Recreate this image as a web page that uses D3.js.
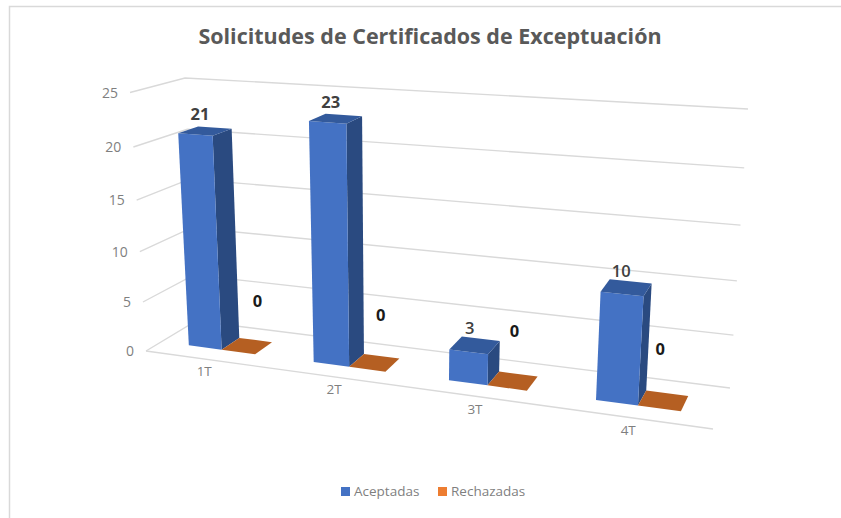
<!DOCTYPE html>
<html><head><meta charset="utf-8">
<script src="https://cdn.jsdelivr.net/npm/d3@7/dist/d3.min.js"></script>
<style>html,body{margin:0;padding:0;background:#fff}svg{display:block}text{font-family:"Open Sans","Noto Sans",sans-serif}</style>
</head><body><div id="c"></div>
<script>
const categories = ["1T","2T","3T","4T"];
const seriesNames = ["Aceptadas","Rechazadas"];
const aceptadas = [21,23,3,10];
const rechazadas = [0,0,0,0];
const titleText = "Solicitudes de Certificados de Exceptuación";
const W=841,H=518;
const svg=d3.select("#c").append("svg").attr("width",W).attr("height",H);

// Box corners on screen: [u][d][v]
const corners={
 fl0:[146,351],fl1:[130,92.5],bl0:[196,321],bl1:[185,78],
 br0:[730,388],br1:[748,109],fr0:[713,429],fr1:[733,135]
};
const persp=(x,r)=>x/(x+(1-x)*r);
const valueY=d3.scaleLinear().domain([0,25]).range([0,1]);
const x0=d3.scaleBand().domain(categories).range([0,1]);
const x1=d3.scaleBand().domain(seriesNames).range([0,x0.bandwidth()]).paddingOuter(.85);
const depth=d3.scaleLinear().domain([0,1]).range([.31,.69]);
const lerp=(a,b,t)=>a+(b-a)*t;
function P(u,d,val){
  const t=persp(u,1.18), f=persp(valueY(val),1.069);
  return [0,1].map(i=>{
    const b=lerp(lerp(corners.fl0[i],corners.fr0[i],t),lerp(corners.bl0[i],corners.br0[i],t),d);
    const a=lerp(lerp(corners.fl1[i],corners.fr1[i],t),lerp(corners.bl1[i],corners.br1[i],t),d);
    return lerp(b,a,f);
  });
}
const line=d3.line();
const grid=svg.append("g").attr("fill","none").attr("stroke","#D9D9D9").attr("stroke-width",1.4);
const ticks=valueY.ticks(5);
ticks.forEach(v=>{
  grid.append("path").attr("d",line([P(0,0,v),P(0,1,v),P(1,1,v)]));
});
grid.append("path").attr("d",line([P(0,0,0),P(1,0,0)]));

svg.append("g").selectAll("text").data(ticks).join("text")
  .attr("x",v=>P(0,0,v)[0]-12).attr("y",v=>P(0,0,v)[1]+5)
  .attr("text-anchor","end").attr("font-size",14).attr("fill","#7F7F7F").text(d=>d);

svg.append("g").selectAll("text").data(categories).join("text")
  .attr("x",c=>P(x0(c)+x0.bandwidth()/2,0,0)[0]+ -3)
  .attr("y",c=>P(x0(c)+x0.bandwidth()/2,0,0)[1]+17)
  .attr("text-anchor","middle").attr("font-size",13.5).attr("fill","#7F7F7F").text(d=>d);

const colors={Aceptadas:["#4472C4","#2A4A80","#335A9C"],Rechazadas:["#ED7D31","#9C5522","#B55F22"]};
const rows=categories.map((c,i)=>[{c,s:"Aceptadas",v:aceptadas[i]},{c,s:"Rechazadas",v:rechazadas[i]}]).flat();
const bars=svg.append("g");
rows.forEach(r=>{
  const u0=x0(r.c)+x1(r.s),u1=u0+x1.bandwidth(),d0=depth(0),d1=depth(1);
  const col=colors[r.s];
  const g=bars.append("g");
  if(r.v>0){
    g.append("path").attr("fill",col[1]).attr("d",line([P(u1,d0,0),P(u1,d1,0),P(u1,d1,r.v),P(u1,d0,r.v)])+"Z");
    g.append("path").attr("fill",col[0]).attr("d",line([P(u0,d0,0),P(u1,d0,0),P(u1,d0,r.v),P(u0,d0,r.v)])+"Z");
  }
  g.append("path").attr("fill",col[2]).attr("d",line([P(u0,d0,r.v),P(u1,d0,r.v),P(u1,d1,r.v),P(u0,d1,r.v)])+"Z");
});
const labels=svg.append("g");
rows.forEach(r=>{
  const u=x0(r.c)+x1(r.s)+x1.bandwidth()/2;
  const p=P(u,.5,r.v);
  const zero=r.s==="Rechazadas";
  const t=persp(u,1.18);
  labels.append("text")
    .attr("x",zero?p[0]+13-18*t:p[0]-5)
    .attr("y",zero?p[1]-38-9*t:p[1]-11)
    .attr("text-anchor","middle").attr("font-size",16.5)
    .attr("font-weight",r.v===10||r.v===3?600:700)
    .attr("fill",zero?"#1a1a1a":"#404040").text(r.v);
});
svg.append("text").attr("x",430).attr("y",44).attr("text-anchor","middle")
  .attr("font-size",21.5).attr("font-weight",700).attr("fill","#595959").text(titleText);

const leg=svg.append("g");
const lx=d3.scaleOrdinal().domain(seriesNames).range([341,438]);
seriesNames.forEach(s=>{
  leg.append("rect").attr("x",lx(s)).attr("y",487).attr("width",9).attr("height",9).attr("fill",colors[s][0]);
  leg.append("text").attr("x",lx(s)+13).attr("y",496).attr("font-size",13.5).attr("fill","#7F7F7F").text(s);
});
svg.append("path").attr("fill","none").attr("stroke","#D9D9D9").attr("stroke-width",1.5)
  .attr("d",line([[9.5,518],[9.5,6.5],[841,6.5]]));
</script></body></html>
